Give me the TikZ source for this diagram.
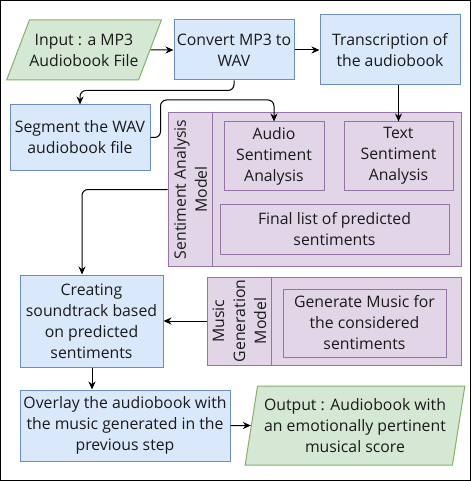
\documentclass[tikz,border=0pt]{standalone}
\usepackage{fontspec}
\setmainfont{Open Sans}
\usetikzlibrary{arrows.meta,shapes.geometric}
\definecolor{bfill}{HTML}{DAE8FC}
\definecolor{bstroke}{HTML}{6C8EBF}
\definecolor{gfill}{HTML}{D5E8D4}
\definecolor{gstroke}{HTML}{82B366}
\definecolor{pfill}{HTML}{E1D5E7}
\definecolor{pstroke}{HTML}{9673A6}
\definecolor{txt}{HTML}{1A1A1A}
\begin{document}
\begin{tikzpicture}[x=1pt,y=-1pt,
  base/.style={line width=1pt, align=center, inner sep=0pt, text=txt,
    font=\fontsize{15.8}{21}\selectfont},
  box/.style={base, draw=bstroke, fill=bfill},
  pbox/.style={base, draw=pstroke, fill=pfill},
  io/.style={base, draw=gstroke, fill=gfill, trapezium, trapezium stretches=true},
  lbl/.style={base, rotate=90},
  arr/.style={draw=black, line width=1pt, rounded corners=6pt, -{Stealth[length=8pt,width=7pt]}}
]
\useasboundingbox (0,0) rectangle (471,481);
\draw[black, line width=1pt] (0.5,0.5) rectangle (470.5,480.5);

\node[io, trapezium left angle=55, trapezium right angle=125, minimum width=148, minimum height=60] (input) at (84,50) {Input : a MP3\\Audiobook File};
\node[box, minimum width=120, minimum height=60] (convert) at (234,50) {Convert MP3 to\\WAV};
\node[box, minimum width=140, minimum height=70] (trans) at (390,50) {Transcription of\\the audiobook};
\node[box, minimum width=140, minimum height=65] (segment) at (80,137.5) {Segment the WAV\\audiobook file};

\node[pbox, minimum width=293, minimum height=153] (sa) at (314.5,189.5) {};
\draw[pstroke, line width=1pt] ([xshift=45]sa.north west) -- ([xshift=45]sa.south west);
\node[lbl] (salbl) at (190.5,189.5) {Sentiment Analysis\\Model};
\node[pbox, minimum width=100, minimum height=68] (audio) at (274,156) {Audio\\Sentiment\\Analysis};
\node[pbox, minimum width=109, minimum height=68] (textsa) at (398.5,156) {Text\\Sentiment\\Analysis};
\node[pbox, minimum width=229, minimum height=50] (final) at (334.5,229) {Final list of predicted\\sentiments};

\node[box, minimum width=143, minimum height=92] (creating) at (91.5,321) {Creating\\soundtrack based\\on predicted\\sentiments};

\node[pbox, minimum width=254, minimum height=88] (mg) at (334,321) {};
\draw[pstroke, line width=1pt] ([xshift=65]mg.north west) -- ([xshift=65]mg.south west);
\node[lbl] (mglbl) at (239.5,321) {Music\\Generation\\Model};
\node[pbox, minimum width=163, minimum height=68] (genmusic) at (364.5,323) {Generate Music for\\the considered\\sentiments};

\node[box, minimum width=210, minimum height=71] (overlay) at (125,425.5) {Overlay the audiobook with\\the music generated in the\\previous step};
\node[io, trapezium left angle=77.9, trapezium right angle=102.1, minimum width=220, minimum height=79] (output) at (355,425.5) {Output : Audiobook with\\an emotionally pertinent\\musical score};

\draw[arr] (input.east) -- (convert.west);
\draw[arr] (convert.east) -- (trans.west);
\draw[arr] (convert.south) -- ++(0,10) -| (segment.north);
\draw[arr] (segment.east) -- ++(10,0) -- ++(0,-37.5) -| (audio.north);
\draw[arr] (trans.south -| textsa.north) -- (textsa.north);
\draw[arr] (sa.west) -| ([xshift=-9.5]creating.north);
\draw[arr] (mg.west) -- (creating.east);
\draw[arr] ([xshift=0.5]creating.south) -- ([xshift=0.5]creating.south |- overlay.north);
\draw[arr] (overlay.east) -- (output.west);
\end{tikzpicture}
\end{document}
